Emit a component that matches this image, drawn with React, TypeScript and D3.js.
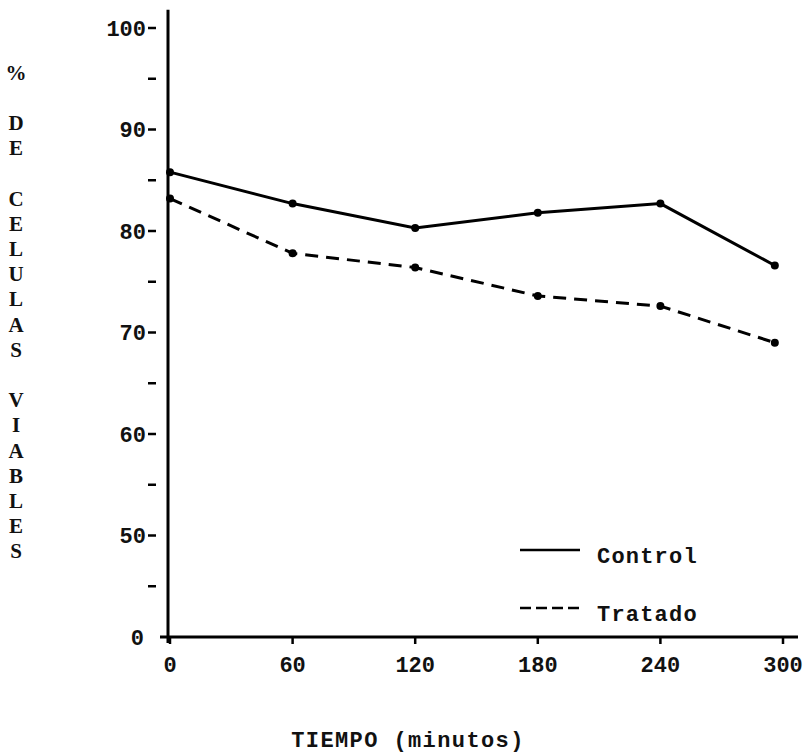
import React from "react";
import * as d3 from "d3";

const times = [0, 60, 120, 180, 240, 296];
const controlValues = [85.8, 82.7, 80.3, 81.8, 82.7, 76.6];
const tratadoValues = [83.2, 77.8, 76.4, 73.6, 72.6, 69.0];
const xTicks = [0, 60, 120, 180, 240, 300];
const yMajorTicks = [100, 90, 80, 70, 60, 50];
const yMinorTicks = [95, 85, 75, 65, 55, 45];
const yBreakLabel = "0";
const yLabelChars = ["%", "", "D", "E", "", "C", "E", "L", "U", "L", "A", "S", "", "V", "I", "A", "B", "L", "E", "S"];
const legendItems = [
  { name: "Control", dashed: false },
  { name: "Tratado", dashed: true },
];
const xTitle = "TIEMPO (minutos)";

const W = 808;
const H = 755;
const FONT = "'Liberation Mono', 'DejaVu Sans Mono', monospace";
const SERIF = "'Liberation Serif', 'DejaVu Serif', serif";

export default function App() {
  const x = d3.scaleLinear().domain([0, 300]).range([170, 783]);
  const y = d3.scaleLinear().domain([40, 100]).range([637, 28]);
  const line = d3
    .line<number>()
    .x((_, i) => x(times[i]))
    .y((d) => y(d));

  const axisX = 168;
  const axisY = y(40);

  return (
    <div style={{ position: "absolute", left: 0, top: 0 }}>
      <svg width={W} height={H} style={{ display: "block", background: "#fff" }}>
        <rect x={0} y={0} width={W} height={H} fill="#fff" />
        {/* Y axis */}
        <line x1={axisX} x2={axisX} y1={y(101.8)} y2={axisY + 6} stroke="#000" strokeWidth={3} />
        {/* X axis */}
        <line x1={160} x2={798} y1={axisY} y2={axisY} stroke="#000" strokeWidth={3} />

        {/* Y ticks */}
        {yMajorTicks.map((t) => (
          <g key={"ym" + t}>
            <line x1={148} x2={156} y1={y(t)} y2={y(t)} stroke="#000" strokeWidth={2.5} />
            <text
              x={146}
              y={y(t)}
              dy="0.36em"
              textAnchor="end"
              fontFamily={FONT}
              fontWeight="bold"
              fontSize={22}
              fill="#111"
            >
              {t}
            </text>
          </g>
        ))}
        {yMinorTicks.map((t) => (
          <line key={"yn" + t} x1={148} x2={156} y1={y(t)} y2={y(t)} stroke="#000" strokeWidth={2.5} />
        ))}
        <text
          x={144}
          y={axisY}
          dy="0.36em"
          textAnchor="end"
          fontFamily={FONT}
          fontWeight="bold"
          fontSize={22}
          fill="#111"
        >
          {yBreakLabel}
        </text>

        {/* X ticks */}
        {xTicks.map((t) => (
          <g key={"xt" + t}>
            <line x1={x(t)} x2={x(t)} y1={axisY} y2={axisY + 7} stroke="#000" strokeWidth={2.5} />
            <text
              x={x(t)}
              y={672}
              textAnchor="middle"
              fontFamily={FONT}
              fontWeight="bold"
              fontSize={22}
              fill="#111"
            >
              {t}
            </text>
          </g>
        ))}

        {/* Series */}
        <path d={line(controlValues) || ""} fill="none" stroke="#000" strokeWidth={3} />
        <path
          d={line(tratadoValues) || ""}
          fill="none"
          stroke="#000"
          strokeWidth={3}
          strokeDasharray="13 8"
        />
        {controlValues.map((v, i) => (
          <circle key={"c" + i} cx={x(times[i])} cy={y(v)} r={4} fill="#000" />
        ))}
        {tratadoValues.map((v, i) => (
          <circle key={"t" + i} cx={x(times[i])} cy={y(v)} r={4} fill="#000" />
        ))}

        {/* Legend */}
        {legendItems.map((it, i) => {
          const ly = 550 + i * 58;
          return (
            <g key={it.name}>
              <line
                x1={520}
                x2={580}
                y1={ly}
                y2={ly}
                stroke="#000"
                strokeWidth={2.5}
                strokeDasharray={it.dashed ? "11 5" : undefined}
              />
              <text
                x={597}
                y={ly + 13}
                fontFamily={FONT}
                fontWeight="bold"
                fontSize={22}
                letterSpacing={1.2}
                fill="#111"
              >
                {it.name}
              </text>
            </g>
          );
        })}

        {/* Y label (vertical letters) */}
        {yLabelChars.map((c, i) =>
          c ? (
            <text
              key={"yl" + i}
              x={16}
              y={72 + i * 25.2}
              dy="0.36em"
              textAnchor="middle"
              fontFamily={SERIF}
              fontWeight="bold"
              fontSize={21}
              fill="#111"
            >
              {c}
            </text>
          ) : null
        )}

        {/* X title */}
        <text
          x={408}
          y={747}
          textAnchor="middle"
          fontFamily={FONT}
          fontWeight="bold"
          fontSize={22}
          letterSpacing={1.4}
          fill="#111"
        >
          {xTitle}
        </text>
      </svg>
    </div>
  );
}
